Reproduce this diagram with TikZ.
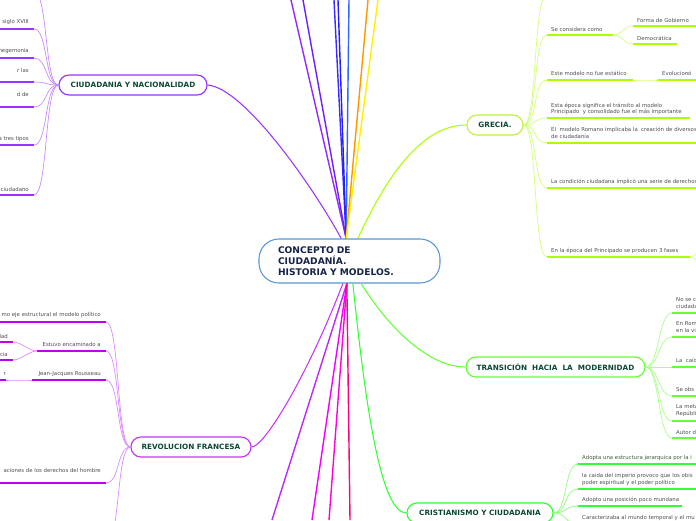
\documentclass[tikz,border=0pt]{standalone}
\usepackage{fontspec}
\setmainfont{DejaVu Sans}
\usepackage{xcolor}
\definecolor{rootline}{RGB}{85,150,215}
\definecolor{roottext}{RGB}{22,36,72}
\definecolor{topictext}{RGB}{12,72,52}
\definecolor{leaftext}{RGB}{80,80,80}
\definecolor{ciucol}{RGB}{153,51,255}
\definecolor{ciulite}{RGB}{200,140,255}
\definecolor{grecol}{RGB}{170,255,0}
\definecolor{grelite}{RGB}{210,255,120}
\definecolor{grebox}{RGB}{190,240,70}
\definecolor{tracol}{RGB}{100,255,50}
\definecolor{tralite}{RGB}{170,255,140}
\definecolor{cricol}{RGB}{50,255,50}
\definecolor{crilite}{RGB}{140,255,120}
\definecolor{revcol}{RGB}{190,0,240}
\definecolor{revlite}{RGB}{220,140,255}
\definecolor{revbox}{RGB}{200,50,255}
\definecolor{trkA}{RGB}{150,40,255}
\definecolor{trkB}{RGB}{110,30,255}
\definecolor{trkC}{RGB}{60,40,255}
\definecolor{trkD}{RGB}{30,30,255}
\definecolor{trkE}{RGB}{50,100,255}
\definecolor{trkF}{RGB}{255,150,0}
\definecolor{trkG}{RGB}{255,240,0}
\definecolor{trkH}{RGB}{190,40,250}
\definecolor{trkI}{RGB}{240,0,255}
\definecolor{trkJ}{RGB}{255,0,220}
\definecolor{trkK}{RGB}{255,0,130}

\begin{document}
\begin{tikzpicture}[
    x=0.03cm, y=-0.03cm,
    root/.style={draw=rootline, line width=0.9pt, fill=white, rounded corners=17pt, minimum width=5.43cm, minimum height=1.32cm, text width=4.29cm, inner xsep=0.57cm, align=left, font=\bfseries\fontsize{7.8}{9.4}\selectfont, text=roottext},
    topic/.style={draw, line width=1pt, fill=white, rounded corners=8.5pt, minimum height=0.6cm, inner sep=0pt, font=\bfseries\fontsize{6.2}{7}\selectfont, text=topictext},
    leaf/.style={inner sep=0pt, align=left, font=\fontsize{4.6}{5.8}\selectfont, text=leaftext},
    uline/.style={line width=1.3pt},
    conR/.style={line width=0.6pt, out=0, in=180, distance=0.42cm},
    conL/.style={line width=0.6pt, out=180, in=0, distance=0.42cm},
    trunk/.style={line width=1.2pt},
    branch/.style={line width=0.9pt},
]
\useasboundingbox (0,0) rectangle (696,520);
\clip (0,0) rectangle (696,520);

\node[root] (root) at (349.5,261) {CONCEPTO DE\\CIUDADANÍA.\\HISTORIA Y MODELOS.};
\coordinate (rtop) at ([xshift=-0.1cm]root.north);
\coordinate (rbot) at ([xshift=-0.08cm]root.south);

\draw[trunk, trkA] (rtop) -- (291,0) coordinate (tA);
\draw[trunk, trkB] (rtop) -- (303,0) coordinate (tB);
\draw[trunk, trkC] (rtop) -- (334,0) coordinate (tC);
\draw[trunk, trkD] (rtop) -- (338,0) coordinate (tD);
\draw[trunk, trkE] (rtop) -- (349,0) coordinate (tE);
\draw[trunk, trkF] (rtop) -- (368,0) coordinate (tF);
\draw[trunk, trkG] (rtop) -- (378,0) coordinate (tG);
\draw[trunk, trkH] (rbot) -- (272,520) coordinate (bH);
\draw[trunk, trkI] (rbot) -- (312,520) coordinate (bI);
\draw[trunk, trkJ] (rbot) -- (329,520) coordinate (bJ);
\draw[trunk, trkK] (rbot) -- (350,520) coordinate (bK);

\node[topic, draw=ciucol, minimum width=4.44cm] (cn) at (133,85) {CIUDADANIA Y NACIONALIDAD};
\node[topic, draw=grebox, minimum width=1.68cm] (gr) at (495,125) {GRECIA.};
\node[topic, draw=tracol, minimum width=5.37cm] (tr) at (555.5,367) {TRANSICIÓN\ \ HACIA\ \ LA\ \ MODERNIDAD};
\node[topic, draw=cricol, minimum width=4.38cm] (cr) at (480,513) {CRISTIANISMO Y CIUDADANIA};
\node[topic, draw=revbox, minimum width=3.6cm] (rf) at (191,447) {REVOLUCION FRANCESA};

\draw[branch, ciucol] (cn.east) .. controls (245,88) and (315,190) .. ([xshift=-0.25cm]root.north);
\draw[branch, grecol] ([xshift=0.25cm]root.north) .. controls (385,180) and (420,125) .. (gr.west);
\draw[branch, tracol] ([xshift=0.35cm]root.south) .. controls (390,330) and (430,367) .. (tr.west);
\draw[branch, cricol] ([xshift=0.1cm]root.south) .. controls (365,400) and (380,513) .. (cr.west);
\draw[branch, revbox] ([xshift=-0.2cm]root.south) .. controls (310,370) and (265,447) .. (rf.east);

\draw[uline, ciucol] (-5,-8) -- (34,-8) coordinate (cn0);
\draw[conL, ciulite] (cn.west) to (cn0);
\draw[uline, ciucol] (-5,29) -- (34,29) coordinate (cn1);
\node[leaf, anchor=east] (cn1t) at (29,22) {siglo XVIII};
\draw[conL, ciulite] (cn.west) to (cn1);
\draw[uline, ciucol] (-5,58) -- (34,58) coordinate (cn2);
\node[leaf, anchor=east] (cn2t) at (29,51) {hegemonia};
\draw[conL, ciulite] (cn.west) to (cn2);
\draw[uline, ciucol] (-5,82) -- (34,82) coordinate (cn3);
\node[leaf, anchor=east] (cn3t) at (29,70) {r las};
\draw[conL, ciulite] (cn.west) to (cn3);
\draw[uline, ciucol] (-5,107) -- (34,107) coordinate (cn4);
\node[leaf, anchor=east] (cn4t) at (29,94) {d de};
\draw[conL, ciulite] (cn.west) to (cn4);
\draw[uline, ciucol] (-5,145) -- (34,145) coordinate (cn5);
\node[leaf, anchor=east] (cn5t) at (29,139) {a tres tipos};
\draw[conL, ciulite] (cn.west) to (cn5);
\draw[uline, ciucol] (-5,195) -- (34,195) coordinate (cn6);
\node[leaf, anchor=east] (cn6t) at (29,189) {ciudadano};
\draw[conL, ciulite] (cn.west) to (cn6);

\draw[uline, grecol] (547,-6) coordinate (gr0) -- (700,-6);
\draw[conR, grelite] (gr.east) to (gr0);
\draw[uline, grecol] (547,35) coordinate (gr1) -- (613,35) coordinate (gr1e);
\node[leaf, anchor=west] (gr1t) at (551,29) {Se considera como};
\draw[conR, grelite] (gr.east) to (gr1);
\draw[uline, grecol] (633,26) coordinate (gr1a) -- (700,26);
\node[leaf, anchor=west] (gr1at) at (637,20) {Forma de Gobierno};
\draw[conR, grelite, distance=0.3cm] (gr1e) to (gr1a);
\draw[uline, grecol] (633,44) coordinate (gr1b) -- (677,44);
\node[leaf, anchor=west] (gr1bt) at (637,38) {Democrática};
\draw[conR, grelite, distance=0.3cm] (gr1e) to (gr1b);
\draw[uline, grecol] (547,80) coordinate (gr2) -- (633,80) coordinate (gr2e);
\node[leaf, anchor=west] (gr2t) at (551,73) {Este modelo no fue estático};
\draw[conR, grelite] (gr.east) to (gr2);
\draw[uline, grecol] (658,80) coordinate (gr2a) -- (700,80);
\node[leaf, anchor=west] (gr2at) at (662,73) {Evolucionó};
\draw[conR, grelite] (gr2e) to (gr2a);
\draw[uline, grecol] (547,118) coordinate (gr3) -- (690,118);
\node[leaf, anchor=west] (gr3t) at (551,109) {Esta época significa el tránsito al modelo\\Principado\ \ y consolidado fue el más importante};
\draw[conR, grelite] (gr.east) to (gr3);
\draw[uline, grecol] (547,143) coordinate (gr4) -- (700,143);
\node[leaf, anchor=west] (gr4t) at (551,132.5) {El\ \ modelo Romano implicaba la\ \ creación de diversos\\de ciudadanía};
\draw[conR, grelite] (gr.east) to (gr4);
\draw[uline, grecol] (547,188) coordinate (gr5) -- (700,188);
\node[leaf, anchor=west] (gr5t) at (551,182) {La condición ciudadana implicó una serie de derechos};
\draw[conR, grelite] (gr.east) to (gr5);
\draw[uline, grecol] (547,257) coordinate (gr6) -- (690,257) coordinate (gr6e);
\node[leaf, anchor=west] (gr6t) at (551,251) {En la época del Principado se producen 3 fases};
\draw[conR, grelite] (gr.east) to (gr6);
\draw[conR, grelite, distance=0.2cm] (gr6e) to (703,249) coordinate (gr6a);
\draw[conR, grelite, distance=0.2cm] (gr6e) to (703,265) coordinate (gr6b);

\draw[uline, tracol] (672,313) coordinate (tr1) -- (700,313);
\node[leaf, anchor=west] (tr1t) at (676,303) {No se c\\ciudada};
\draw[conR, tralite] (tr.east) to (tr1);
\draw[uline, tracol] (672,337) coordinate (tr2) -- (700,337);
\node[leaf, anchor=west] (tr2t) at (676,327) {En Rom\\en la vi};
\draw[conR, tralite] (tr.east) to (tr2);
\draw[uline, tracol] (672,367) coordinate (tr3) -- (700,367);
\node[leaf, anchor=west] (tr3t) at (676,360) {La\ \ caíd};
\draw[conR, tralite] (tr.east) to (tr3);
\draw[uline, tracol] (672,396) coordinate (tr4) -- (700,396);
\node[leaf, anchor=west] (tr4t) at (676,389) {Se obs};
\draw[conR, tralite] (tr.east) to (tr4);
\draw[uline, tracol] (672,421) coordinate (tr5) -- (700,421);
\node[leaf, anchor=west] (tr5t) at (676,410.5) {La meta\\Repúbli};
\draw[conR, tralite] (tr.east) to (tr5);
\draw[uline, tracol] (672,438) coordinate (tr6) -- (700,438);
\node[leaf, anchor=west] (tr6t) at (676,432) {Autor d};
\draw[conR, tralite] (tr.east) to (tr6);

\draw[uline, cricol] (578,464) coordinate (cr1) -- (700,464);
\node[leaf, anchor=west] (cr1t) at (582,458) {Adopta una estructura jerarquica por la i};
\draw[conR, crilite] (cr.east) to (cr1);
\draw[uline, cricol] (578,489) coordinate (cr2) -- (700,489);
\node[leaf, anchor=west] (cr2t) at (582,479.5) {la caida del imperio provoco que los obis\\poder espiritual y el poder político};
\draw[conR, crilite] (cr.east) to (cr2);
\draw[uline, cricol] (578,506) coordinate (cr3) -- (682,506);
\node[leaf, anchor=west] (cr3t) at (582,500) {Adopto una posición poco mundana};
\draw[conR, crilite] (cr.east) to (cr3);
\draw[uline, cricol] (578,524) coordinate (cr4) -- (700,524);
\node[leaf, anchor=west] (cr4t) at (582,518) {Caracterizaba al mundo temporal y el mu};
\draw[conR, crilite] (cr.east) to (cr4);

\draw[uline, revcol] (-5,322) -- (106,322) coordinate (rf1);
\node[leaf, anchor=east] (rf1t) at (101,315) {mo eje estructural el modelo político};
\draw[conL, revlite] (rf.west) to (rf1);
\draw[uline, revcol] (37,351) coordinate (rf2s) -- (106,351) coordinate (rf2);
\node[leaf, anchor=east] (rf2t) at (101,344) {Estuvo encaminado a};
\draw[conL, revlite] (rf.west) to (rf2);
\draw[uline, revcol] (-5,342) -- (13,342) coordinate (rf2a);
\node[leaf, anchor=east] (rf2at) at (8,336) {dad};
\draw[conL, revlite, distance=0.25cm] (rf2s) to (rf2a);
\draw[uline, revcol] (-5,360) -- (13,360) coordinate (rf2b);
\node[leaf, anchor=east] (rf2bt) at (8,354) {cia};
\draw[conL, revlite, distance=0.25cm] (rf2s) to (rf2b);
\draw[uline, revcol] (32,380) coordinate (rf3s) -- (106,380) coordinate (rf3);
\node[leaf, anchor=east] (rf3t) at (101,374) {Jean-Jacques Rousseau};
\draw[conL, revlite] (rf.west) to (rf3);
\draw[uline, revcol] (-5,380) -- (6,380) coordinate (rf3a);
\node[leaf, anchor=east] (rf3at) at (6,374) {r};
\draw[conL, revlite] (rf3s) to (rf3a);
\draw[uline, revcol] (-5,483) -- (106,483) coordinate (rf4);
\node[leaf, anchor=east] (rf4t) at (101,470) {aciones de los derechos del hombre};
\draw[conL, revlite] (rf.west) to (rf4);
\draw[conL, revlite] (rf.west) to (106,545) coordinate (rf5);
\end{tikzpicture}
\end{document}
